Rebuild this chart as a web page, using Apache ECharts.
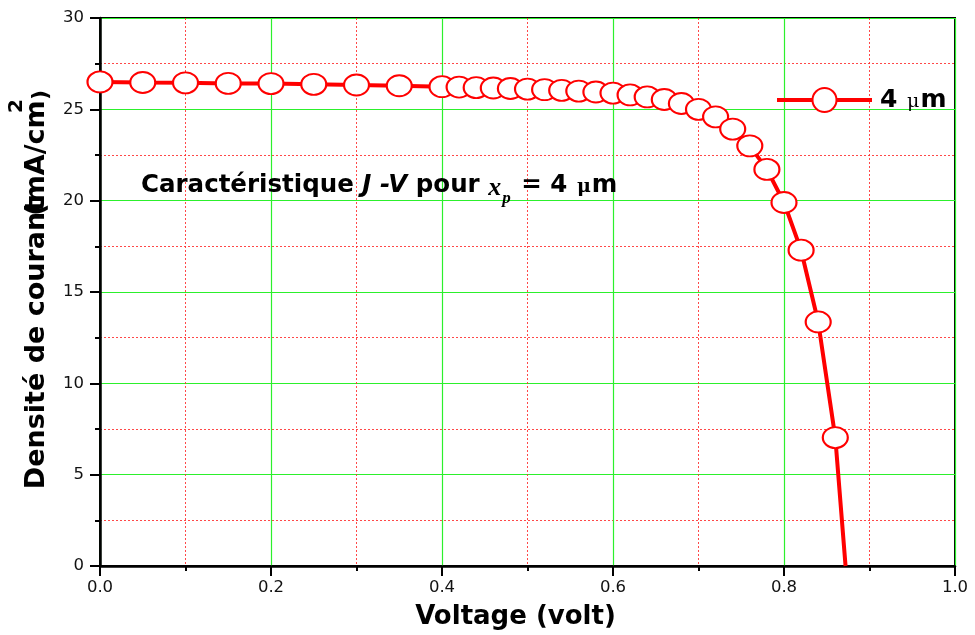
<!DOCTYPE html>
<html>
<head>
<meta charset="utf-8">
<script src="https://cdn.jsdelivr.net/npm/echarts@6/dist/echarts.min.js"></script>
<style>
  html, body { margin: 0; padding: 0; background: #fff; }
  #chart { width: 975px; height: 635px; }
</style>
</head>
<body>
<div id="chart"></div>
<script>
// J-V characteristic of the cell, x_p = 4 µm
const seriesName = '4 μm';
const voltage = [
  0.00, 0.05, 0.10, 0.15, 0.20, 0.25, 0.30, 0.35, 0.40,
  0.42, 0.44, 0.46, 0.48, 0.50, 0.52, 0.54, 0.56, 0.58, 0.60,
  0.62, 0.64, 0.66, 0.68, 0.70, 0.72, 0.74, 0.76, 0.78, 0.80,
  0.82, 0.84, 0.86, 0.872
];
const currentDensity = [
  26.50, 26.47, 26.45, 26.42, 26.41, 26.37, 26.33, 26.29, 26.24,
  26.22, 26.19, 26.17, 26.14, 26.11, 26.08, 26.04, 26.00, 25.95, 25.89,
  25.79, 25.68, 25.54, 25.32, 25.00, 24.59, 23.92, 23.00, 21.71, 19.90,
  17.29, 13.36, 7.03, 0.00
];
// the last point (open-circuit voltage) is drawn without a marker
const markedCount = 32;

const xTicks = { min: 0, max: 1.0, interval: 0.2 };
const yTicks = { min: 0, max: 30, interval: 5 };

const points = voltage.map((v, i) => {
  const item = { value: [v, currentDensity[i]] };
  if (i >= markedCount) item.symbol = 'none';
  return item;
});

const BOLD = 'DejaVu Sans';
const chart = echarts.init(document.getElementById('chart'), null, { renderer: 'canvas' });

const gridGreen = '#2cf02c';
const minorRed = 'rgba(255,40,40,0.85)';

const axisCommon = {
  axisLine: { show: true, onZero: false, lineStyle: { color: '#000', width: 2.5 } },
  axisTick: { show: true, inside: false, length: 10, lineStyle: { color: '#000', width: 2 } },
  minorTick: { show: true, splitNumber: 2, length: 5, lineStyle: { color: '#000', width: 2 } },
  splitLine: { show: true, lineStyle: { color: gridGreen, width: 1.2 } },
  minorSplitLine: { show: true, lineStyle: { color: minorRed, width: 1, type: [2, 2] } }
};

chart.setOption({
  animation: false,
  backgroundColor: '#fff',
  grid: {
    left: 100, right: 20, top: 18, bottom: 69,
    outerBoundsMode: 'none',
    containLabel: false,
    show: true, borderColor: '#000', borderWidth: 2, backgroundColor: 'transparent'
  },
  title: {
    left: 136, top: 159,
    text: '{b|Caractéristique }{bi|J -V}{b| pour }{x|x}{p|p}{b| = 4 }{mu|μ}{b|m}',
    textStyle: {
      rich: {
        b: { fontFamily: BOLD, fontWeight: 'bold', fontSize: 24.5, color: '#000' },
        bi: { fontFamily: BOLD, fontWeight: 'bold', fontStyle: 'italic', fontSize: 24.5, color: '#000' },
        x: { fontFamily: 'Liberation Serif', fontStyle: 'italic', fontSize: 26, color: '#000', padding: [6, 0, 0, 0] },
        p: { fontFamily: 'Liberation Serif', fontStyle: 'italic', fontWeight: 'bold', fontSize: 17, color: '#000', padding: [26, 2, 0, 1] },
        mu: { fontFamily: 'DejaVu Serif', fontSize: 19, color: '#000', padding: [4, 1, 0, 1] }
      }
    }
  },
  legend: {
    show: true,
    left: 775, top: 87,
    padding: 0,
    itemWidth: 95, itemHeight: 30,
    itemGap: 10,
    data: [seriesName],
    lineStyle: { width: 4 },
    formatter: () => '{n|4 }{mu|μ}{n|m}',
    textStyle: {
      padding: [0, 0, 0, 3],
      rich: {
        n: { fontFamily: BOLD, fontWeight: 'bold', fontSize: 25, color: '#000' },
        mu: { fontFamily: 'DejaVu Serif', fontSize: 19, color: '#000', padding: [5, 1, 0, 1] }
      }
    }
  },
  xAxis: Object.assign({
    type: 'value',
    min: xTicks.min, max: xTicks.max, interval: xTicks.interval,
    name: 'Voltage (volt)',
    nameLocation: 'middle',
    nameGap: 38,
    nameTextStyle: { fontFamily: BOLD, fontWeight: 'bold', fontSize: 26, color: '#000', padding: [0, 24, 0, 0] },
    axisLabel: { fontFamily: 'DejaVu Sans', fontSize: 16.5, color: '#111', margin: 13,
      formatter: v => v.toFixed(1) }
  }, axisCommon),
  yAxis: Object.assign({
    type: 'value',
    min: yTicks.min, max: yTicks.max, interval: yTicks.interval,
    axisLabel: { fontFamily: 'DejaVu Sans', fontSize: 16.5, color: '#111', margin: 16 }
  }, axisCommon),
  graphic: [
    {
      type: 'text', x: 37, y: 344, rotation: Math.PI / 2,
      style: { text: 'Densité de courant', font: 'bold 27px "DejaVu Sans"', fill: '#000',
        align: 'center', verticalAlign: 'middle' }
    },
    {
      type: 'text', x: 37, y: 158, rotation: Math.PI / 2,
      style: { text: '(mA/cm', font: 'bold 27px "DejaVu Sans"', fill: '#000',
        align: 'center', verticalAlign: 'middle' }
    },
    {
      type: 'text', x: 17, y: 106, rotation: Math.PI / 2,
      style: { text: '2', font: 'bold 20px "DejaVu Sans"', fill: '#000',
        align: 'center', verticalAlign: 'middle' }
    },
    {
      type: 'text', x: 41, y: 95, rotation: Math.PI / 2,
      style: { text: ')', font: 'bold 22px "DejaVu Sans"', fill: '#000',
        align: 'center', verticalAlign: 'middle' }
    }
  ],
  series: [{
    name: seriesName,
    type: 'line',
    data: points,
    clip: true,
    symbol: 'circle',
    symbolSize: [25, 21],
    showAllSymbol: true,
    lineStyle: { color: '#ff0000', width: 4 },
    itemStyle: { color: '#ffffff', borderColor: '#ff0000', borderWidth: 2 },
    emphasis: { disabled: true },
    z: 5
  }]
});
</script>
</body>
</html>
